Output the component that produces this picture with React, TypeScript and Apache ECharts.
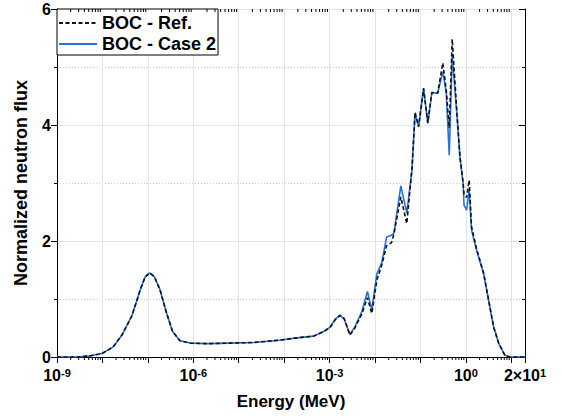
import { useEffect, useRef } from 'react';
import * as echarts from 'echarts';

// Energy grid (MeV)
const energy = [
  1e-9, 2.75e-9, 5.4e-9, 9.8e-9, 1.7e-8, 2.7e-8, 4.5e-8, 6.8e-8, 8.7e-8, 1.1e-7,
  1.4e-7, 1.85e-7, 2.6e-7, 3.5e-7, 5.1e-7, 8.5e-7, 2.0e-6, 6.5e-6, 2.1e-5, 7.9e-5,
  1.9e-4, 4.5e-4, 7.4e-4, 1.02e-3, 1.32e-3, 1.7e-3, 2.1e-3, 2.8e-3, 3.6e-3, 5.1e-3,
  6.8e-3, 8.5e-3, 1.1e-2, 1.4e-2, 1.8e-2, 2.3e-2, 2.6e-2, 3.7e-2, 5.0e-2, 6.5e-2,
  7.6e-2, 9.1e-2, 0.117, 0.145, 0.178, 0.24, 0.31, 0.37, 0.43, 0.5,
  0.63, 0.74, 0.87, 0.91, 1.04, 1.18, 1.33, 1.72, 2.45, 3.16,
  4.07, 5.25, 7.2, 9.3, 20,
];

const fluxRef = [
  0, 0, 0.02, 0.06, 0.17, 0.38, 0.72, 1.16, 1.38, 1.45,
  1.38, 1.16, 0.75, 0.44, 0.28, 0.24, 0.23, 0.24, 0.25, 0.29,
  0.33, 0.36, 0.44, 0.51, 0.64, 0.72, 0.66, 0.38, 0.5, 0.74,
  1.02, 0.75, 1.33, 1.58, 1.92, 1.97, 2.12, 2.76, 2.3, 3.25,
  4.22, 3.97, 4.63, 4.03, 4.56, 4.55, 5.07, 4.6, 3.95, 5.48,
  4.25, 3.45, 3.0, 2.8, 2.75, 3.05, 2.25, 1.86, 1.45, 0.98,
  0.52, 0.24, 0.03, 0, 0,
];

const fluxCase2 = [
  0, 0, 0.02, 0.06, 0.17, 0.38, 0.72, 1.16, 1.38, 1.45,
  1.38, 1.16, 0.75, 0.44, 0.28, 0.24, 0.23, 0.24, 0.25, 0.29,
  0.33, 0.36, 0.44, 0.51, 0.65, 0.72, 0.65, 0.39, 0.52, 0.78,
  1.13, 0.81, 1.44, 1.62, 2.07, 2.1, 2.13, 2.95, 2.48, 3.22,
  4.2, 3.97, 4.63, 4.03, 4.56, 4.55, 4.92, 4.55, 3.48, 5.2,
  4.2, 3.45, 2.99, 2.62, 2.53, 2.88, 2.19, 1.84, 1.44, 0.98,
  0.52, 0.24, 0.03, 0, 0,
];

const seriesNames = ['BOC - Ref.', 'BOC - Case 2'];
const xMin = 1e-9;
const xMax = 20;
const yMin = 0;
const yMax = 6;

// minor log ticks (2..9 x 10^k) — axis decoration only
const minorTickValues: number[] = [];
for (let k = -9; k <= 1; k++) {
  for (let m = 2; m <= 9; m++) {
    const v = m * Math.pow(10, k);
    if (v < xMax) minorTickValues.push(v);
  }
}

const FONT = 'Liberation Sans, Arial, sans-serif';

export default function App() {
  const ref = useRef<HTMLDivElement>(null);

  useEffect(() => {
    if (!ref.current) return;
    const chart = echarts.init(ref.current, undefined, { renderer: 'svg' });

    const xLabelFormatter = (v: number) => {
      if (Math.abs(v - 20) < 1e-6) return '2×10{s|1}';
      const e = Math.round(Math.log10(v));
      if (e % 3 === 0) return '10{s|' + e + '}';
      return '';
    };

    const option: any = {
      animation: false,
      backgroundColor: '#fff',
      textStyle: { fontFamily: FONT },
      grid: { left: 57, right: 37, top: 9, bottom: 60 },
      legend: {
        data: seriesNames,
        orient: 'vertical',
        left: 57,
        top: 9,
        borderColor: '#000',
        borderWidth: 1,
        backgroundColor: '#fff',
        padding: [5, 2, 2, 1],
        itemWidth: 38,
        itemHeight: 14,
        itemGap: 3,
        borderRadius: 0,
        itemStyle: { color: 'transparent', borderWidth: 0, opacity: 0 },
        textStyle: { fontSize: 18, fontWeight: 'bold', color: '#000', fontFamily: FONT },
      },
      xAxis: [
        {
          type: 'log',
          logBase: 10,
          min: xMin,
          max: xMax,
          interval: 1,
          splitNumber: 10,
          name: 'Energy (MeV)',
          nameLocation: 'middle',
          nameGap: 36,
          nameTextStyle: { fontSize: 17, fontWeight: 'bold', color: '#000', fontFamily: FONT },
          axisLine: { show: true, lineStyle: { color: '#000', width: 1 } },
          axisTick: { show: true, inside: false, length: 6, interval: 0, lineStyle: { color: '#000', width: 1 } },
          axisLabel: {
            interval: 0,
            fontSize: 16,
            fontWeight: 'bold',
            color: '#000',
            margin: 10,
            showMinLabel: true,
            showMaxLabel: true,
            hideOverlap: false,
            fontFamily: FONT,
            formatter: xLabelFormatter,
            rich: {
              s: { fontSize: 11, fontWeight: 'bold', color: '#000', verticalAlign: 'top', fontFamily: FONT },
            },
          },
          splitLine: { show: true, interval: 0, lineStyle: { color: '#e4e4e4', width: 1 } },
        },
        {
          type: 'log',
          logBase: 10,
          min: xMin,
          max: xMax,
          interval: 1,
          splitNumber: 10,
          position: 'top',
          axisLine: { show: true, lineStyle: { color: '#000', width: 1 } },
          axisTick: { show: true, inside: true, length: 6, interval: 0, lineStyle: { color: '#000', width: 1 } },
          axisLabel: { show: false },
          splitLine: { show: false },
        },
      ],
      yAxis: [
        {
          type: 'value',
          min: yMin,
          max: yMax,
          interval: 2,
          name: 'Normalized neutron flux',
          nameLocation: 'middle',
          nameGap: 27,
          nameTextStyle: { fontSize: 18, fontWeight: 'bold', color: '#000', fontFamily: FONT },
          axisLine: { show: true, lineStyle: { color: '#000', width: 1 } },
          axisTick: { show: true, inside: false, length: 6, lineStyle: { color: '#000', width: 1 } },
          minorTick: { show: true, splitNumber: 2, length: 3, lineStyle: { color: '#000', width: 1 } },
          axisLabel: { fontSize: 16, fontWeight: 'bold', color: '#000', margin: 6, fontFamily: FONT },
          splitLine: { show: true, lineStyle: { color: '#e4e4e4', width: 1 } },
          minorSplitLine: { show: true, lineStyle: { color: '#cfcfcf', width: 1, type: [1, 2] } },
        },
        {
          type: 'value',
          min: yMin,
          max: yMax,
          interval: 2,
          position: 'right',
          axisLine: { show: true, lineStyle: { color: '#000', width: 1 } },
          axisTick: { show: true, inside: true, length: 6, lineStyle: { color: '#000', width: 1 } },
          minorTick: { show: true, splitNumber: 2, length: 3, lineStyle: { color: '#000', width: 1 } },
          axisLabel: { show: false },
          splitLine: { show: false },
        },
      ],
      series: [
        {
          name: seriesNames[1],
          type: 'line',
          data: energy.map((e, i) => [e, fluxCase2[i]]),
          symbol: 'none',
          z: 2,
          color: '#2472dd',
          lineStyle: { color: '#2472dd', width: 1.6 },
        },
        {
          name: seriesNames[0],
          type: 'line',
          data: energy.map((e, i) => [e, fluxRef[i]]),
          symbol: 'none',
          z: 3,
          color: '#111',
          lineStyle: { color: '#111', width: 1.6, type: [4, 2.5] },
        },
        {
          type: 'custom',
          silent: true,
          clip: false,
          z: 4,
          data: minorTickValues.map((v) => [v, 0]),
          renderItem: (_params: any, api: any) => {
            const v = api.value(0);
            const pb = api.coord([v, yMin]);
            const pt = api.coord([v, yMax]);
            return {
              type: 'group',
              children: [
                {
                  type: 'line',
                  shape: { x1: pb[0], y1: pb[1], x2: pb[0], y2: pb[1] + 3 },
                  style: { stroke: '#000', lineWidth: 1 },
                },
                {
                  type: 'line',
                  shape: { x1: pt[0], y1: pt[1], x2: pt[0], y2: pt[1] + 3 },
                  style: { stroke: '#000', lineWidth: 1 },
                },
              ],
            };
          },
        },
      ],
    };

    chart.setOption(option);
    return () => chart.dispose();
  }, []);

  return (
    <div
      ref={ref}
      style={{ position: 'fixed', left: 0, top: 0, width: 562, height: 417, background: '#fff' }}
    />
  );
}
